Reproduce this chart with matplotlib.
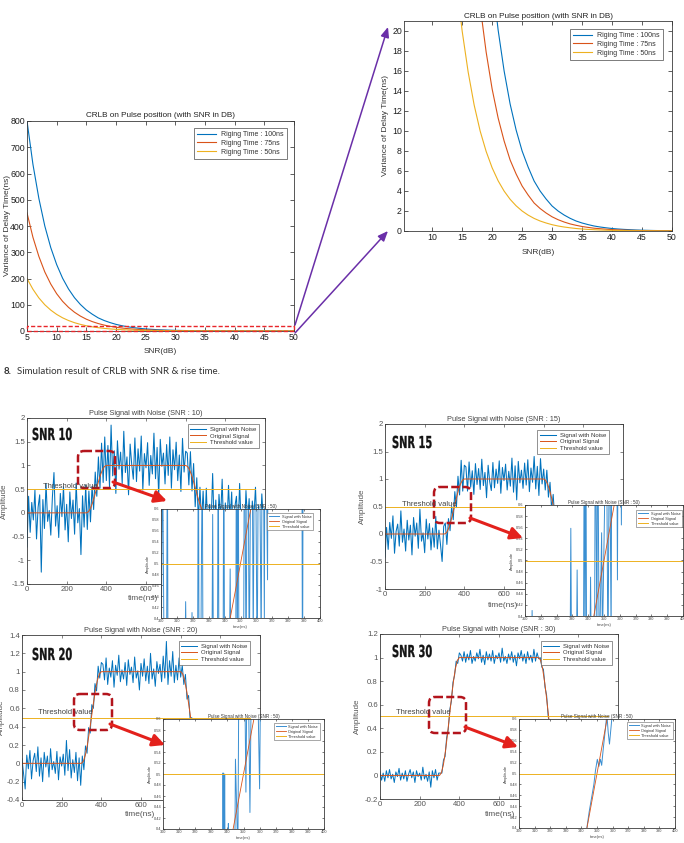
import numpy as np
import matplotlib
matplotlib.use('Agg')
import matplotlib.pyplot as plt
from matplotlib.patches import FancyBboxPatch, FancyArrowPatch, Rectangle, PathPatch
from matplotlib.ticker import FuncFormatter
from matplotlib.textpath import TextPath
from matplotlib.font_manager import FontProperties
from matplotlib.transforms import Affine2D

plt.rcParams['font.family'] = ['Liberation Sans', 'DejaVu Sans']
plt.rcParams['axes.unicode_minus'] = False

W, H = 684, 843

# ---------------- data ----------------
snr_db = list(range(5, 51))
crlb_rise100 = [800, 635, 505, 400, 318, 253, 201, 160, 127, 101, 80, 64, 50, 40, 32, 25.3,
                20.1, 16, 12.7, 10.1, 8.0, 6.4, 5.0, 4.0, 3.2, 2.5, 2.0, 1.6, 1.27, 1.0, 0.8,
                0.64, 0.5, 0.4, 0.32, 0.25, 0.2, 0.16, 0.13, 0.1, 0.08, 0.064, 0.05, 0.04,
                0.032, 0.025]
crlb_rise75 = [450, 357, 284, 225, 179, 142, 113, 90, 71.5, 56.8, 45, 35.8, 28.4, 22.5, 17.9,
               14.2, 11.3, 9.0, 7.1, 5.7, 4.5, 3.6, 2.8, 2.25, 1.8, 1.42, 1.13, 0.9, 0.71,
               0.57, 0.45, 0.36, 0.28, 0.23, 0.18, 0.14, 0.11, 0.09, 0.07, 0.057, 0.045,
               0.036, 0.028, 0.023, 0.018, 0.014]
crlb_rise50 = [200, 159, 126, 100, 79.6, 63.2, 50.2, 39.9, 31.7, 25.2, 20, 15.9, 12.6, 10,
               7.96, 6.32, 5.02, 3.99, 3.17, 2.52, 2.0, 1.59, 1.26, 1.0, 0.8, 0.63, 0.5, 0.4,
               0.32, 0.25, 0.2, 0.16, 0.13, 0.1, 0.08, 0.063, 0.05, 0.04, 0.032, 0.025, 0.02,
               0.016, 0.013, 0.01, 0.008, 0.006]
crlb_labels = ['Riging Time : 100ns', 'Riging Time : 75ns', 'Riging Time : 50ns']
crlb_title = 'CRLB on Pulse position (with SNR in DB)'

orig_t = [0, 300, 310, 320, 330, 340, 350, 360, 370, 380, 390, 400,
          800, 810, 820, 830, 840, 850, 860, 870, 880, 890, 900, 1200]
orig_v = [0, 0, 0.024, 0.095, 0.206, 0.345, 0.5, 0.655, 0.794, 0.905, 0.976, 1,
          1, 0.976, 0.905, 0.794, 0.655, 0.5, 0.345, 0.206, 0.095, 0.024, 0, 0]
thr_t = [0, 1150]
thr_v = [0.5, 0.5]
sample_step_ns = 8

sig_snr10 = [
    -0.72, 0.35, -0.41, 0.22, -0.15, 0.48, -0.55, 0.12, 0.38, -1.25,
    0.28, -0.33, 0.62, -0.18, 0.05, -0.47, 0.33, 0.85, -0.28, 0.15,
    -0.52, 0.41, -0.08, 0.55, -0.36, 0.18, -0.61, 0.44, -0.12, 0.27,
    -0.45, 0.63, -0.21, 0.09, -0.88, 0.36, -0.3, 0.58,
    -0.35, 0.46, -0.19, 0.56, 0.07, 0.86, 0.35, 1.18, 0.52, 1.47, 0.64, 1.6, 0.68,
    1.42, 0.55, 1.85, 0.78, 1.31, 0.41, 1.52, 0.92, 1.28, 0.62,
    1.72, 0.85, 1.18, 0.38, 1.45, 1.02, 0.71, 1.58, 0.66, 1.35,
    0.88, 1.62, 0.48, 1.25, 0.95, 1.48, 0.58, 1.21, 0.82, 1.68,
    0.72, 1.38, 0.35, 1.55, 0.98, 1.26, 0.61, 1.44, 0.79, 1.6,
    0.52, 1.33, 0.91, 1.49, 0.68, 1.22, 0.45, 1.57, 0.86, 1.3,
    1.26, 0.59, 1.29, 0.46, 1.04, 0.13, 0.74, -0.16, 0.54, -0.2, 0.46, -0.38,
    0.52, -0.41, 0.18, -0.25, 0.83, -0.33, 0.27, -0.6, 0.39, -0.12,
    0.71, -0.48, 0.21, -0.3, 0.58, -0.19, 0.44, -0.66, 0.13, 0.35,
    -0.42, 0.62, -0.27, 0.08, -0.51, 0.47, -0.16, 0.3, -0.58, 0.25,
    -0.09, 0.54, -0.37, 0.16, -0.45, 0.4, -0.22, 0.11]

sig_snr15 = [
    -0.42, 0.12, -0.28, 0.21, -0.08, 0.33, -0.35, 0.05, 0.18, -0.22,
    0.42, -0.15, 0.09, -0.31, 0.25, -0.11, 0.16, -0.38, 0.3, -0.04,
    0.2, -0.26, 0.45, -0.13, 0.02, -0.34, 0.27, -0.09, 0.19, -0.29,
    0.11, -0.24, 0.32, -0.27, 0.07, -0.2, -0.5, 0.14,
    0.2, -0.19, 0.28, 0.06, 0.5, 0.26, 0.77, 0.48, 1.05, 0.71, 1.34, 0.78, 1.25,
    1.22, 0.78, 1.31, 0.85, 1.15, 0.72, 1.28, 0.9, 1.19, 0.81,
    1.36, 0.88, 1.12, 0.66, 1.25, 0.95, 0.79, 1.3, 0.84, 1.18,
    0.92, 1.33, 0.74, 1.21, 0.97, 1.27, 0.8, 1.14, 0.87, 1.38,
    0.76, 1.24, 0.62, 1.32, 0.93, 1.16, 0.83, 1.29, 0.89, 1.35,
    0.77, 1.2, 0.94, 1.41, 0.82, 1.23, 0.7, 1.37, 0.91, 1.18,
    0.8, 1.16, 0.67, 0.94, 0.45, 0.72, 0.25, 0.49, -0.04, 0.28, -0.14, 0.21,
    -0.18, 0.26, -0.31, 0.15, -0.07, 0.34, -0.24, 0.1, -0.36, 0.22,
    -0.12, 0.29, -0.2, 0.04, -0.33, 0.38, -0.15, 0.19, -0.27, 0.08,
    0.31, -0.22, 0.13, -0.4, 0.24, -0.06, 0.35, -0.19, 0.17, -0.3,
    0.09, -0.25, 0.28, -0.11, 0.2, -0.34, 0.16, -0.05]

sig_snr20 = [
    0.05, -0.12, -0.28, 0.09, -0.06, 0.14, -0.17, 0.03, 0.11, -0.09,
    0.18, -0.14, 0.06, -0.2, 0.12, -0.04, 0.08, -0.15, 0.16, -0.07,
    0.02, -0.11, 0.13, -0.18, 0.07, -0.03, 0.1, -0.13, 0.25, -0.08,
    0.15, -0.16, 0.04, -0.1, 0.12, -0.19, 0.06, -0.24,
    0.08, -0.07, 0.19, 0.11, 0.39, 0.33, 0.64, 0.6, 0.87, 0.79, 1.06, 0.93, 1.1,
    1.08, 0.91, 1.15, 0.86, 1.04, 0.94, 1.12, 0.83, 1.07, 0.96,
    1.18, 0.89, 1.02, 0.92, 1.1, 0.85, 1.13, 0.97, 1.05, 0.88,
    1.16, 0.93, 1.01, 0.8, 1.09, 0.95, 1.14, 0.9, 1.06, 0.87,
    1.2, 0.92, 1.03, 0.84, 1.11, 0.98, 1.08, 0.89, 1.17, 0.93,
    1.33, 0.86, 1.12, 0.95, 1.22, 0.88, 1.07, 0.91, 1.15, 0.94,
    1.07, 0.86, 0.97, 0.7, 0.74, 0.47, 0.5, 0.21, 0.28, 0.0, 0.12, -0.1,
    0.09, -0.13, 0.06, -0.08, 0.15, -0.11, 0.04, -0.17, 0.1, -0.05,
    0.13, -0.09, 0.02, -0.14, 0.11, -0.06, 0.08, -0.12, 0.16, -0.03,
    0.07, -0.15, 0.12, -0.07, 0.05, -0.1, 0.14, -0.04, 0.09, -0.16,
    0.03, -0.08, 0.11, -0.12, 0.06, -0.09, 0.1, -0.02]

sig_snr30 = [
    0.03, -0.04, 0.02, -0.05, 0.04, -0.02, 0.05, -0.03, 0.01, -0.06,
    0.03, -0.01, 0.06, -0.04, 0.02, -0.03, 0.04, -0.05, 0.01, 0.05,
    -0.02, 0.03, -0.06, 0.04, -0.01, 0.02, -0.04, 0.07, -0.03, 0.01,
    -0.05, 0.03, -0.1, 0.04, -0.02, 0.05, -0.04, 0.02,
    0.02, 0.02, 0.13, 0.16, 0.32, 0.39, 0.56, 0.63, 0.79, 0.85, 0.97, 0.95, 1.04,
    1.02, 0.97, 1.05, 0.96, 1.03, 0.98, 1.06, 0.95, 1.01, 0.97,
    1.04, 0.99, 1.07, 0.96, 1.02, 0.94, 1.05, 0.98, 1.03, 0.97,
    1.06, 0.95, 1.02, 0.99, 1.04, 0.96, 1.08, 0.97, 1.01, 0.95,
    1.03, 0.98, 1.05, 0.96, 1.02, 0.93, 1.04, 0.99, 1.06, 0.97,
    1.03, 0.95, 1.05, 0.98, 1.02, 0.96, 1.07, 0.97, 1.04, 0.99,
    1.0, 0.92, 0.9, 0.75, 0.68, 0.5, 0.43, 0.27, 0.21, 0.08, 0.07, -0.02,
    0.03, -0.02, 0.04, -0.03, 0.02, -0.05, 0.03, -0.01, 0.05, -0.04,
    0.02, -0.03, 0.04, -0.02, 0.01, -0.05, 0.03, -0.02, 0.06, -0.03,
    0.02, -0.04, 0.01, 0.04, -0.03, 0.02, -0.05, 0.03, -0.01, 0.04,
    -0.02, 0.03, -0.04, 0.02, -0.03, 0.05, -0.02, 0.01]

# zoomed (inset) views, 300..400 ns
zoom10_t = [300, 301, 302, 303.5, 304, 304.5, 315, 315.5, 316, 319, 319.5, 320, 323, 323.5,
            324, 325, 325.5, 326, 326.5, 332, 332.5, 333, 335.5, 336, 336.5, 339, 339.5, 340,
            343, 343.5, 344, 347, 347.5, 348, 348.5, 349, 352, 352.5, 353.5, 354.5, 355.5, 357,
            358, 359, 360.5, 361.5, 363, 364, 365, 365.5, 367, 367.5, 388.5, 389, 389.5, 400]
zoom10_v = [0.3, 0.7, 0.3, 0.32, 0.75, 0.2, 0.3, 0.43, 0.3, 0.3, 0.41, 0.3, 0.3, 0.8,
            0.2, 0.3, 0.535, 0.7, 0.2, 0.3, 0.59, 0.3, 0.3, 0.8, 0.2, 0.25, 0.8, 0.25,
            0.3, 0.49, 0.3, 0.3, 0.85, 0.3, 0.85, 0.3, 0.35, 0.85, 0.3, 0.9, 0.3, 0.95,
            0.35, 0.9, 0.3, 0.9, 0.35, 0.95, 0.4, 0.9, 0.47, 0.9, 0.9, 0.2, 0.9, 0.9]
zoom15_t = [300, 304, 304.5, 305, 328.5, 329, 329.5, 332.5, 333, 333.5, 337, 337.5, 338,
            338.5, 339, 341, 341.5, 342, 344, 344.5, 345.5, 346, 347, 348.5, 349, 351.5,
            352.5, 353.5, 354.5, 355, 358, 358.5, 359, 360.5, 361, 361.5, 400]
zoom15_v = [0.3, 0.3, 0.41, 0.3, 0.3, 0.558, 0.3, 0.3, 0.483, 0.3, 0.3, 0.8, 0.3,
            0.8, 0.3, 0.3, 0.47, 0.3, 0.3, 0.8, 0.35, 0.8, 0.3, 0.55, 0.35, 0.8,
            0.3, 0.8, 0.35, 0.8, 0.8, 0.465, 0.8, 0.8, 0.564, 0.8, 0.8]
zoom20_t = [300, 337, 337.3, 337.6, 338, 338.3, 338.6, 340.3, 340.6, 341, 344.5, 345, 346.5,
            347.5, 348.5, 350, 351.5, 352.5, 354, 355.5, 357, 358, 360, 361, 400]
zoom20_v = [0.3, 0.3, 0.502, 0.3, 0.3, 0.5, 0.3, 0.3, 0.41, 0.3, 0.3, 0.527, 0.35,
            0.9, 0.65, 0.9, 0.467, 0.8, 0.43, 0.85, 0.62, 0.8, 0.473, 0.8, 0.8]
zoom30_t = [343, 344, 345, 346.5, 348, 349, 350.2, 351.2, 352.2, 353, 354, 355.5, 356.3,
            357.2, 358, 359, 359.8]
zoom30_v = [0.39, 0.41, 0.43, 0.455, 0.48, 0.505, 0.526, 0.513, 0.526, 0.515, 0.545, 0.585,
            0.61, 0.575, 0.554, 0.585, 0.61]

series_labels = ['Signal with Noise', 'Original Signal', 'Threshold value']
zoom_title = 'Pulse Signal with Noise (SNR : 50)'

BLUE, RED, YEL = '#0072BD', '#D95319', '#EDB120'
gfmt = FuncFormatter(lambda v, p: '%g' % round(v, 4))

fig = plt.figure(figsize=(W / 100, H / 100), dpi=100)


def px_axes(l, t, r, b, z=0):
    return fig.add_axes([l / W, 1 - b / H, (r - l) / W, (b - t) / H], zorder=z)


def style(ax, fs, tc, tl=2.5):
    ax.tick_params(direction='in', top=True, right=True, length=tl, width=0.5,
                   labelsize=fs, colors=tc, pad=1.5)
    for s in ax.spines.values():
        s.set_linewidth(0.6)
        s.set_color('#3a3a3a')


def legend(ax, anchor, fs, hl, lw=0.5, **kw):
    lg = ax.legend(loc='upper right', bbox_to_anchor=anchor, borderaxespad=0, fontsize=fs,
                   fancybox=False, edgecolor='#666666', framealpha=1, handlelength=hl,
                   borderpad=0.45, labelspacing=0.25, handletextpad=0.7, **kw)
    lg.get_frame().set_linewidth(lw)
    for t in lg.get_texts():
        t.set_color('#333333')
    return lg


# ---------------- CRLB charts ----------------
for box, xlim, xt, ylim, yt, lanc, ylx, xly, tpad in [
        ((27, 121, 294, 331), (5, 50), range(5, 51, 5), (0, 800), range(0, 801, 100),
         (0.974, 0.967), -0.06, -0.082, 3),
        ((404, 21, 672, 231), (5.3, 50), range(10, 51, 5), (0, 21), range(0, 21, 2),
         (0.966, 0.962), -0.056, -0.086, 2)]:
    ax = px_axes(*box)
    for vals, c, lab in zip([crlb_rise100, crlb_rise75, crlb_rise50], [BLUE, RED, YEL],
                            crlb_labels):
        ax.plot(snr_db, vals, color=c, lw=0.8, label=lab)
    ax.set_xlim(*xlim)
    ax.set_ylim(*ylim)
    ax.set_xticks(list(xt))
    ax.set_yticks(list(yt))
    style(ax, 6.3, '#1e1e1e', 3)
    ax.set_title(crlb_title, fontsize=5.9, pad=tpad, color='#222222')
    ax.set_xlabel('SNR(dB)', fontsize=6, color='#333333')
    ax.set_ylabel('Variance of Delay Time(ns)', fontsize=6, color='#333333')
    ax.xaxis.set_label_coords(0.5, xly)
    ax.yaxis.set_label_coords(ylx, 0.5)
    legend(ax, lanc, 5, 2.8, lw=0.6)
    if xlim[0] == 5:
        ax.add_patch(Rectangle((5, 0.8), 45, 19.2, fill=False, ec='#e8262b', lw=1.0,
                               ls=(0, (3, 1.5)), clip_on=False, zorder=5))

# ---------------- pulse panels ----------------
panels = [
    dict(box=(27, 418, 265, 584), ylim=(-1.5, 2), ystep=0.5, snr=10, sig=sig_snr10,
         ibox=(161, 509, 320, 618), it=zoom10_t, iv=zoom10_v,
         leg=(0.975, 0.964), ileg=(0.956, 0.963), ylx=-0.08, xl=(0.487, -0.066),
         snr_xy=(32, 440), thr_xy=(43, 487), dbox=(78, 451, 115, 488),
         arrow=((113, 482), (167, 501)), lw=0.75),
    dict(box=(385, 424, 623, 589), ylim=(-1, 2), ystep=0.5, snr=15, sig=sig_snr15,
         ibox=(525, 505, 683, 616), it=zoom15_t, iv=zoom15_v,
         leg=(0.941, 0.964), ileg=(0.994, 0.955), ylx=-0.08, xl=(0.496, -0.079),
         snr_xy=(392, 448), thr_xy=(402, 504), dbox=(434, 487, 471, 523),
         arrow=((470, 518), (523, 538)), lw=0.75),
    dict(box=(22, 635, 260, 800), ylim=(-0.4, 1.4), ystep=0.2, snr=20, sig=sig_snr20,
         ibox=(163, 719, 324, 829), it=zoom20_t, iv=zoom20_v,
         leg=(0.958, 0.964), ileg=(0.975, 0.964), ylx=-0.071, xl=(0.496, -0.067),
         snr_xy=(32, 660), thr_xy=(38, 712), dbox=(74, 694, 112, 730),
         arrow=((110, 724), (165, 745)), lw=0.7),
    dict(box=(380, 634, 618, 799), ylim=(-0.2, 1.2), ystep=0.2, snr=30, sig=sig_snr30,
         ibox=(519, 719, 675, 828), it=zoom30_t, iv=zoom30_v,
         leg=(0.975, 0.958), ileg=(0.987, 0.972), ylx=-0.08, xl=(0.504, -0.073),
         snr_xy=(392, 657), thr_xy=(396, 712), dbox=(429, 697, 466, 733),
         arrow=((465, 727), (518, 747)), lw=0.7),
]

ov = fig.add_axes([0, 0, 1, 1], zorder=20)
ov.set_xlim(0, W)
ov.set_ylim(H, 0)
ov.axis('off')
snr_font = FontProperties(family='DejaVu Sans', weight='bold')

for p in panels:
    ax = px_axes(*p['box'])
    t = sample_step_ns * np.arange(len(p['sig']))
    ax.plot(t, p['sig'], color=BLUE, lw=p['lw'], label=series_labels[0])
    ax.plot(orig_t, orig_v, color=RED, lw=0.7, label=series_labels[1])
    ax.plot(thr_t, thr_v, color=YEL, lw=0.7, label=series_labels[2])
    ax.set_xlim(0, 1200)
    ax.set_ylim(*p['ylim'])
    ax.set_xticks(range(0, 1201, 200))
    ax.set_yticks(np.arange(p['ylim'][0], p['ylim'][1] + 1e-9, p['ystep']))
    ax.yaxis.set_major_formatter(gfmt)
    style(ax, 5.6, '#555555')
    ax.set_title('Pulse Signal with Noise (SNR : %d)' % p['snr'], fontsize=5.3, pad=2,
                 color='#444444')
    ax.set_xlabel('time(ns)', fontsize=6, color='#555555')
    ax.set_ylabel('Amplitude', fontsize=5.8, color='#555555')
    ax.xaxis.set_label_coords(*p['xl'])
    ax.yaxis.set_label_coords(p['ylx'], 0.5)
    legend(ax, p['leg'], 4.3, 2.6)

    ia = px_axes(*p['ibox'], z=5)
    ia.plot(p['it'], p['iv'], color='#3a8fd2', lw=0.7, label=series_labels[0])
    ia.plot(orig_t, orig_v, color=RED, lw=0.6, label=series_labels[1])
    ia.plot(thr_t, thr_v, color=YEL, lw=0.7, label=series_labels[2])
    ia.set_xlim(300, 400)
    ia.set_ylim(0.4, 0.6)
    ia.set_xticks(range(300, 401, 10))
    ia.set_yticks(np.arange(0.4, 0.6001, 0.02))
    ia.yaxis.set_major_formatter(gfmt)
    style(ia, 2.8, '#444444', 1.5)
    ia.tick_params(pad=1)
    ia.set_title(zoom_title, fontsize=3.3, pad=1, color='#333333')
    ia.set_xlabel('time(ns)', fontsize=3, labelpad=1, color='#444444')
    ia.set_ylabel('Amplitude', fontsize=3, labelpad=1.5, color='#444444')
    legend(ia, p['ileg'], 2.8, 2.6, lw=0.4)

    # condensed bold panel label (text outline squeezed horizontally)
    tp = TextPath((0, 0), 'SNR %d' % p['snr'], size=16.5, prop=snr_font)
    tr = Affine2D().scale(0.6, -1).translate(p['snr_xy'][0], p['snr_xy'][1])
    ov.add_patch(PathPatch(tr.transform_path(tp), fc='#141414', ec='#141414', lw=0.2))

    ov.text(p['thr_xy'][0], p['thr_xy'][1], 'Threshold value', fontsize=5.5,
            color='#444444', va='center', ha='left')
    l, t_, r, b = p['dbox']
    ov.add_patch(FancyBboxPatch((l, t_), r - l, b - t_,
                                boxstyle='round,pad=0,rounding_size=6', fill=False,
                                ec='#b3141c', lw=1.8, ls=(0, (3.2, 1.3))))
    ov.add_patch(FancyArrowPatch(p['arrow'][0], p['arrow'][1],
                                 arrowstyle='-|>,head_length=0.6,head_width=0.3',
                                 mutation_scale=12, lw=2.2, color='#e3211c',
                                 shrinkA=0, shrinkB=0))

# purple connector arrows
for a, b in [((295, 325), (388, 27)), ((295, 333), (388, 231))]:
    ov.add_patch(FancyArrowPatch(a, b, arrowstyle='-|>,head_length=0.6,head_width=0.25',
                                 mutation_scale=10, lw=1.1, color='#6a2fa8',
                                 shrinkA=0, shrinkB=0))

# caption
ov.text(4, 372, '8.', fontsize=7, fontweight='bold', family=['Lato', 'DejaVu Sans'],
        va='center', ha='left', color='#333333')
ov.text(17, 372, 'Simulation result of CRLB with SNR & rise time.', fontsize=7,
        family=['Lato', 'DejaVu Sans'], va='center', ha='left', color='#333333')

fig.savefig('out.png', dpi=100)
